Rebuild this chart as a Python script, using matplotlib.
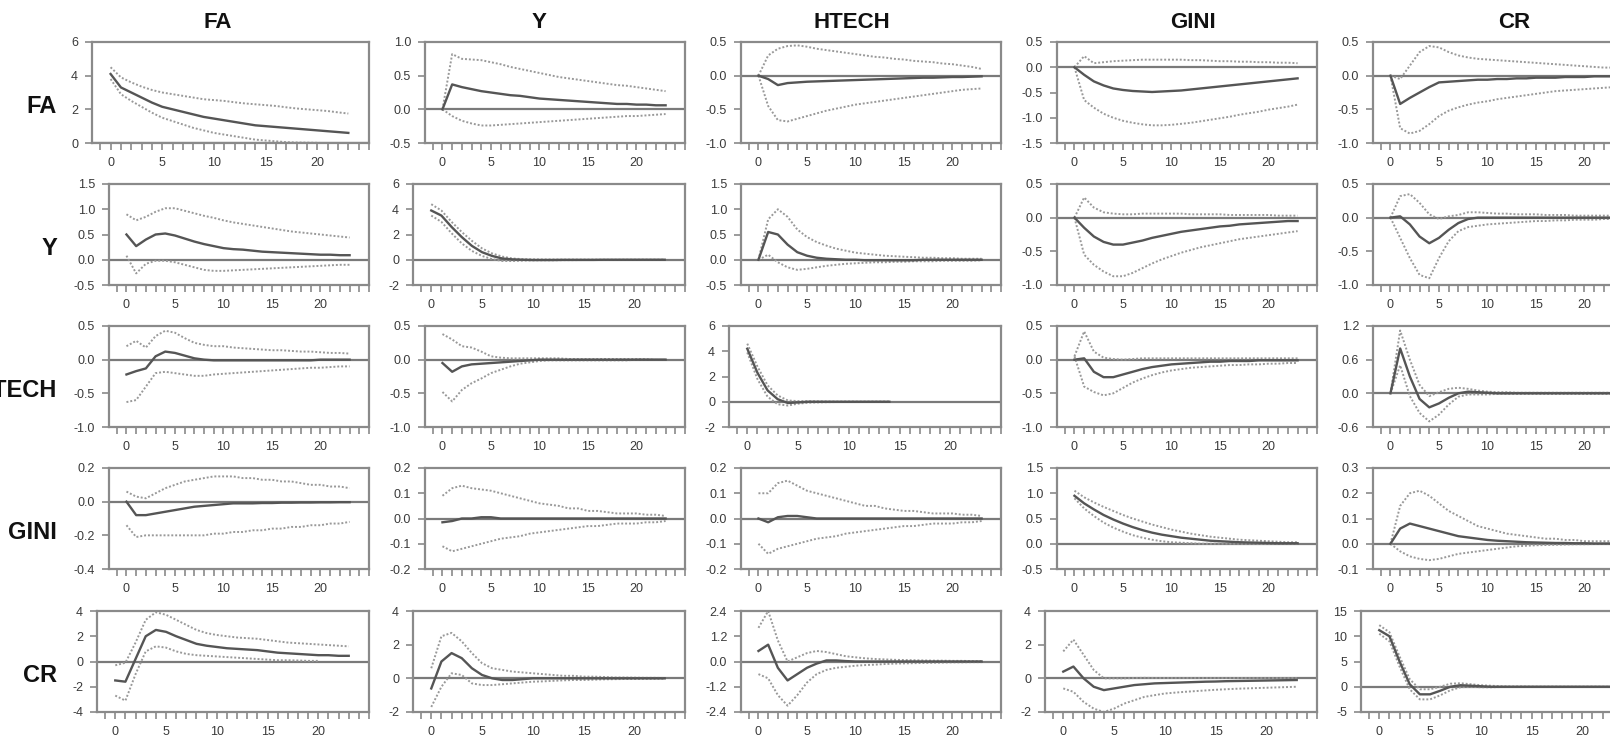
import numpy as np
import matplotlib
matplotlib.use("agg")
import matplotlib.pyplot as plt
from matplotlib.ticker import MultipleLocator

plt.rcParams['font.family'] = ['Liberation Sans', 'DejaVu Sans']

names = ['FA', 'Y', 'HTECH', 'GINI', 'CR']
horizon = np.arange(24)

# --- responses of FA (row 1) ---
FA_FA = [4.1, 3.3, 3.0, 2.7, 2.4, 2.15, 2.0, 1.85, 1.7, 1.55, 1.45, 1.35, 1.25, 1.15, 1.05, 1.0, 0.95, 0.9, 0.85, 0.8, 0.75, 0.7, 0.65, 0.6]
FA_FA_UP = [4.5, 3.9, 3.6, 3.35, 3.15, 3.0, 2.9, 2.8, 2.7, 2.6, 2.55, 2.5, 2.42, 2.35, 2.3, 2.25, 2.2, 2.12, 2.05, 2.0, 1.95, 1.9, 1.82, 1.75]
FA_FA_LO = [3.8, 2.9, 2.5, 2.15, 1.8, 1.5, 1.3, 1.1, 0.9, 0.75, 0.6, 0.5, 0.4, 0.3, 0.2, 0.15, 0.1, 0.05, 0.03, 0.02, 0.01, -0.02, -0.05, -0.08]
FA_Y = [0.0, 0.37, 0.33, 0.3, 0.27, 0.25, 0.23, 0.21, 0.2, 0.18, 0.16, 0.15, 0.14, 0.13, 0.12, 0.11, 0.1, 0.09, 0.08, 0.08, 0.07, 0.07, 0.06, 0.06]
FA_Y_UP = [0.0, 0.82, 0.75, 0.74, 0.73, 0.7, 0.67, 0.63, 0.6, 0.57, 0.54, 0.51, 0.48, 0.46, 0.44, 0.42, 0.4, 0.38, 0.36, 0.35, 0.33, 0.31, 0.29, 0.27]
FA_Y_LO = [0.0, -0.1, -0.17, -0.21, -0.24, -0.24, -0.23, -0.22, -0.21, -0.2, -0.19, -0.18, -0.17, -0.16, -0.15, -0.14, -0.13, -0.12, -0.11, -0.1, -0.1, -0.09, -0.08, -0.07]
FA_HTECH = [0.0, -0.05, -0.14, -0.11, -0.1, -0.09, -0.085, -0.08, -0.075, -0.07, -0.065, -0.06, -0.055, -0.05, -0.045, -0.04, -0.035, -0.03, -0.03, -0.025, -0.02, -0.02, -0.015, -0.01]
FA_HTECH_UP = [0.0, 0.3, 0.4, 0.44, 0.45, 0.43, 0.4, 0.38, 0.36, 0.34, 0.32, 0.3, 0.28, 0.27, 0.25, 0.24, 0.22, 0.21, 0.2, 0.18, 0.17, 0.15, 0.13, 0.1]
FA_HTECH_LO = [0.0, -0.45, -0.66, -0.68, -0.64, -0.6, -0.56, -0.52, -0.49, -0.46, -0.43, -0.41, -0.39, -0.37, -0.35, -0.33, -0.31, -0.29, -0.27, -0.25, -0.23, -0.21, -0.2, -0.19]
FA_GINI = [0.0, -0.15, -0.28, -0.36, -0.42, -0.45, -0.47, -0.48, -0.49, -0.48, -0.47, -0.46, -0.44, -0.42, -0.4, -0.38, -0.36, -0.34, -0.32, -0.3, -0.28, -0.26, -0.24, -0.22]
FA_GINI_UP = [0.0, 0.22, 0.08, 0.1, 0.12, 0.13, 0.14, 0.15, 0.15, 0.15, 0.15, 0.15, 0.14, 0.14, 0.13, 0.12, 0.12, 0.11, 0.11, 0.1, 0.1, 0.09, 0.09, 0.08]
FA_GINI_LO = [0.0, -0.65, -0.8, -0.92, -1.0, -1.06, -1.1, -1.13, -1.15, -1.15, -1.14, -1.12, -1.1, -1.07, -1.04, -1.01, -0.98, -0.94, -0.91, -0.88, -0.84, -0.81, -0.78, -0.74]
FA_CR = [0.0, -0.42, -0.33, -0.25, -0.17, -0.1, -0.09, -0.08, -0.07, -0.06, -0.06, -0.05, -0.05, -0.04, -0.04, -0.03, -0.03, -0.03, -0.02, -0.02, -0.02, -0.01, -0.01, -0.01]
FA_CR_UP = [0.0, -0.05, 0.15, 0.35, 0.44, 0.42, 0.35, 0.3, 0.27, 0.25, 0.24, 0.23, 0.22, 0.21, 0.2, 0.19, 0.18, 0.17, 0.16, 0.15, 0.14, 0.13, 0.12, 0.12]
FA_CR_LO = [0.0, -0.78, -0.86, -0.82, -0.72, -0.6, -0.52, -0.47, -0.43, -0.4, -0.38, -0.35, -0.33, -0.31, -0.29, -0.27, -0.25, -0.23, -0.22, -0.21, -0.2, -0.19, -0.18, -0.17]

# --- responses of Y (row 2) ---
Y_FA = [0.5, 0.27, 0.4, 0.5, 0.52, 0.48, 0.42, 0.36, 0.31, 0.27, 0.23, 0.21, 0.2, 0.18, 0.16, 0.15, 0.14, 0.13, 0.12, 0.11, 0.1, 0.1, 0.09, 0.09]
Y_FA_UP = [0.9, 0.78, 0.85, 0.95, 1.02, 1.02, 0.97, 0.92, 0.87, 0.83, 0.78, 0.74, 0.71, 0.68, 0.65, 0.62, 0.59, 0.56, 0.54, 0.52, 0.5, 0.48, 0.46, 0.44]
Y_FA_LO = [0.08, -0.27, -0.08, -0.02, -0.02, -0.05, -0.1, -0.15, -0.2, -0.22, -0.22, -0.21, -0.2, -0.19, -0.18, -0.17, -0.16, -0.15, -0.14, -0.13, -0.12, -0.11, -0.1, -0.1]
Y_Y = [3.9, 3.5, 2.6, 1.8, 1.1, 0.6, 0.3, 0.1, 0.03, 0.0, -0.02, -0.02, -0.02, -0.01, -0.01, -0.01, -0.01, 0.0, 0.0, 0.0, 0.0, 0.0, 0.0, 0.0]
Y_Y_UP = [4.4, 3.9, 3.0, 2.2, 1.5, 0.9, 0.5, 0.25, 0.1, 0.05, 0.03, 0.02, 0.02, 0.01, 0.01, 0.01, 0.01, 0.0, 0.0, 0.0, 0.0, 0.0, 0.0, 0.0]
Y_Y_LO = [3.5, 3.0, 2.1, 1.3, 0.7, 0.3, 0.05, -0.1, -0.1, -0.07, -0.05, -0.04, -0.04, -0.03, -0.03, -0.02, -0.02, -0.02, -0.02, -0.01, -0.01, -0.01, -0.01, -0.01]
Y_HTECH = [0.0, 0.55, 0.5, 0.3, 0.15, 0.08, 0.04, 0.02, 0.01, 0.0, 0.0, -0.01, -0.01, -0.01, -0.01, -0.01, -0.01, 0.0, 0.0, 0.0, 0.0, 0.0, 0.0, 0.0]
Y_HTECH_UP = [0.0, 0.8, 1.0, 0.85, 0.6, 0.45, 0.35, 0.28, 0.22, 0.18, 0.14, 0.12, 0.1, 0.08, 0.07, 0.06, 0.05, 0.04, 0.04, 0.03, 0.03, 0.02, 0.02, 0.02]
Y_HTECH_LO = [0.0, 0.1, -0.05, -0.15, -0.2, -0.18, -0.15, -0.12, -0.1, -0.08, -0.07, -0.06, -0.05, -0.05, -0.04, -0.04, -0.03, -0.03, -0.03, -0.02, -0.02, -0.02, -0.02, -0.01]
Y_GINI = [0.0, -0.15, -0.28, -0.36, -0.4, -0.4, -0.37, -0.34, -0.3, -0.27, -0.24, -0.21, -0.19, -0.17, -0.15, -0.13, -0.12, -0.1, -0.09, -0.08, -0.07, -0.06, -0.05, -0.05]
Y_GINI_UP = [0.0, 0.3, 0.15, 0.08, 0.06, 0.05, 0.05, 0.06, 0.06, 0.06, 0.06, 0.06, 0.05, 0.05, 0.05, 0.05, 0.04, 0.04, 0.04, 0.04, 0.04, 0.03, 0.03, 0.03]
Y_GINI_LO = [0.0, -0.55, -0.7, -0.8, -0.87, -0.87, -0.82, -0.75, -0.68, -0.62, -0.57, -0.52, -0.48, -0.44, -0.41, -0.38, -0.35, -0.32, -0.3, -0.28, -0.26, -0.24, -0.22, -0.2]
Y_CR = [0.0, 0.02, -0.1, -0.28, -0.38, -0.3, -0.18, -0.08, -0.02, 0.0, 0.0, 0.0, 0.0, 0.0, 0.0, 0.0, 0.0, 0.0, 0.0, 0.0, 0.0, 0.0, 0.0, 0.0]
Y_CR_UP = [0.0, 0.32, 0.35, 0.22, 0.05, -0.02, 0.02, 0.04, 0.08, 0.08, 0.07, 0.06, 0.06, 0.05, 0.05, 0.05, 0.04, 0.04, 0.04, 0.03, 0.03, 0.03, 0.03, 0.03]
Y_CR_LO = [0.0, -0.3, -0.6, -0.85, -0.9, -0.6, -0.35, -0.2, -0.14, -0.12, -0.1, -0.09, -0.08, -0.07, -0.06, -0.05, -0.05, -0.04, -0.04, -0.03, -0.03, -0.03, -0.02, -0.02]

# --- responses of HTECH (row 3) ---
HT_FA = [-0.22, -0.17, -0.13, 0.05, 0.12, 0.1, 0.06, 0.02, 0.0, -0.01, -0.01, -0.01, -0.01, -0.01, -0.01, -0.01, -0.01, -0.01, -0.01, -0.01, 0.0, 0.0, 0.0, 0.0]
HT_FA_UP = [0.2, 0.28, 0.18, 0.35, 0.43, 0.4, 0.32, 0.25, 0.22, 0.2, 0.2, 0.18, 0.17, 0.16, 0.15, 0.14, 0.14, 0.13, 0.12, 0.12, 0.11, 0.1, 0.1, 0.09]
HT_FA_LO = [-0.63, -0.6, -0.4, -0.2, -0.18, -0.2, -0.22, -0.24, -0.24, -0.22, -0.21, -0.2, -0.19, -0.18, -0.17, -0.16, -0.15, -0.14, -0.13, -0.12, -0.12, -0.11, -0.1, -0.1]
HT_Y = [-0.05, -0.18, -0.1, -0.07, -0.06, -0.05, -0.04, -0.03, -0.02, -0.01, 0.0, 0.0, 0.0, 0.0, 0.0, 0.0, 0.0, 0.0, 0.0, 0.0, 0.0, 0.0, 0.0, 0.0]
HT_Y_UP = [0.38, 0.3, 0.2, 0.18, 0.12, 0.05, 0.03, 0.02, 0.02, 0.02, 0.02, 0.02, 0.02, 0.01, 0.01, 0.01, 0.01, 0.01, 0.01, 0.01, 0.01, 0.01, 0.0, 0.0]
HT_Y_LO = [-0.48, -0.62, -0.45, -0.35, -0.28, -0.2, -0.15, -0.1, -0.06, -0.04, -0.02, -0.01, -0.01, -0.01, -0.01, -0.01, -0.01, -0.01, -0.01, -0.01, 0.0, 0.0, 0.0, 0.0]
HT_HTECH = [4.2, 2.3, 0.9, 0.2, -0.1, -0.05, 0.0, 0.0, 0.0, 0.0, 0.0, 0.0, 0.0, 0.0, 0.0]
HT_HTECH_UP = [4.6, 2.8, 1.3, 0.5, 0.1, 0.05, 0.05, 0.03, 0.02, 0.01, 0.01, 0.0, 0.0, 0.0, 0.0]
HT_HTECH_LO = [3.9, 1.8, 0.4, -0.2, -0.3, -0.15, -0.08, -0.05, -0.03, -0.02, -0.01, -0.01, 0.0, 0.0, 0.0]
HT_GINI = [0.0, 0.02, -0.18, -0.26, -0.26, -0.22, -0.18, -0.14, -0.11, -0.09, -0.07, -0.06, -0.05, -0.04, -0.03, -0.03, -0.02, -0.02, -0.02, -0.01, -0.01, -0.01, -0.01, -0.01]
HT_GINI_UP = [0.05, 0.42, 0.12, 0.03, 0.01, 0.0, 0.01, 0.02, 0.02, 0.02, 0.02, 0.02, 0.02, 0.02, 0.02, 0.02, 0.02, 0.02, 0.02, 0.02, 0.02, 0.02, 0.02, 0.02]
HT_GINI_LO = [0.05, -0.4, -0.48, -0.53, -0.5, -0.42, -0.34, -0.28, -0.23, -0.19, -0.16, -0.14, -0.12, -0.11, -0.1, -0.09, -0.08, -0.08, -0.07, -0.07, -0.06, -0.06, -0.05, -0.05]
HT_CR = [0.0, 0.8, 0.3, -0.1, -0.25, -0.18, -0.08, 0.0, 0.03, 0.02, 0.01, 0.0, 0.0, 0.0, 0.0, 0.0, 0.0, 0.0, 0.0, 0.0, 0.0, 0.0, 0.0, 0.0]
HT_CR_UP = [0.0, 1.12, 0.6, 0.15, -0.05, 0.02, 0.08, 0.1, 0.08, 0.05, 0.03, 0.02, 0.02, 0.01, 0.01, 0.01, 0.01, 0.01, 0.01, 0.01, 0.01, 0.01, 0.01, 0.01]
HT_CR_LO = [0.0, 0.5, -0.05, -0.35, -0.5, -0.38, -0.2, -0.06, -0.02, -0.02, -0.02, -0.01, -0.01, -0.01, -0.01, -0.01, -0.01, -0.01, -0.01, -0.01, -0.01, -0.01, -0.01, -0.01]

# --- responses of GINI (row 4) ---
GI_FA = [0.0, -0.08, -0.08, -0.07, -0.06, -0.05, -0.04, -0.03, -0.025, -0.02, -0.015, -0.01, -0.01, -0.01, -0.008, -0.008, -0.006, -0.006, -0.005, -0.005, -0.004, -0.004, -0.003, -0.003]
GI_FA_UP = [0.06, 0.03, 0.02, 0.05, 0.08, 0.1, 0.12, 0.13, 0.14, 0.15, 0.15, 0.15, 0.14, 0.14, 0.13, 0.13, 0.12, 0.12, 0.11, 0.1, 0.1, 0.09, 0.09, 0.08]
GI_FA_LO = [-0.14, -0.21, -0.2, -0.2, -0.2, -0.2, -0.2, -0.2, -0.2, -0.19, -0.19, -0.18, -0.18, -0.17, -0.17, -0.16, -0.16, -0.15, -0.15, -0.14, -0.14, -0.13, -0.13, -0.12]
GI_Y = [-0.015, -0.01, 0.0, 0.0, 0.005, 0.005, 0.0, 0.0, 0.0, 0.0, 0.0, 0.0, 0.0, 0.0, 0.0, 0.0, 0.0, 0.0, 0.0, 0.0, 0.0, 0.0, 0.0, 0.0]
GI_Y_UP = [0.09, 0.12, 0.13, 0.12, 0.115, 0.11, 0.1, 0.09, 0.08, 0.07, 0.06, 0.055, 0.05, 0.04, 0.04, 0.03, 0.03, 0.025, 0.02, 0.02, 0.02, 0.015, 0.015, 0.01]
GI_Y_LO = [-0.11, -0.13, -0.12, -0.11, -0.1, -0.09, -0.08, -0.075, -0.07, -0.06, -0.055, -0.05, -0.045, -0.04, -0.035, -0.03, -0.03, -0.025, -0.02, -0.02, -0.02, -0.015, -0.015, -0.01]
GI_HTECH = [0.0, -0.015, 0.005, 0.01, 0.01, 0.005, 0.0, 0.0, 0.0, 0.0, 0.0, 0.0, 0.0, 0.0, 0.0, 0.0, 0.0, 0.0, 0.0, 0.0, 0.0, 0.0, 0.0, 0.0]
GI_HTECH_UP = [0.1, 0.1, 0.14, 0.15, 0.13, 0.11, 0.1, 0.09, 0.08, 0.07, 0.06, 0.05, 0.05, 0.04, 0.035, 0.03, 0.03, 0.025, 0.02, 0.02, 0.02, 0.015, 0.015, 0.01]
GI_HTECH_LO = [-0.1, -0.14, -0.12, -0.11, -0.1, -0.09, -0.08, -0.075, -0.07, -0.06, -0.055, -0.05, -0.045, -0.04, -0.035, -0.03, -0.03, -0.025, -0.02, -0.02, -0.02, -0.015, -0.015, -0.01]
GI_GINI = [0.95, 0.8, 0.68, 0.57, 0.48, 0.4, 0.33, 0.27, 0.22, 0.18, 0.15, 0.12, 0.1, 0.08, 0.06, 0.05, 0.04, 0.03, 0.025, 0.02, 0.015, 0.01, 0.01, 0.01]
GI_GINI_UP = [1.05, 0.92, 0.82, 0.73, 0.65, 0.57, 0.5, 0.44, 0.38, 0.33, 0.28, 0.24, 0.2, 0.17, 0.14, 0.12, 0.1, 0.08, 0.07, 0.06, 0.05, 0.04, 0.03, 0.03]
GI_GINI_LO = [0.9, 0.7, 0.55, 0.42, 0.32, 0.24, 0.17, 0.12, 0.08, 0.05, 0.03, 0.02, 0.01, 0.0, 0.0, 0.0, 0.0, 0.0, 0.0, 0.0, 0.0, 0.0, 0.0, 0.0]
GI_CR = [0.0, 0.06, 0.08, 0.07, 0.06, 0.05, 0.04, 0.03, 0.025, 0.02, 0.015, 0.012, 0.01, 0.008, 0.006, 0.005, 0.004, 0.003, 0.003, 0.002, 0.002, 0.001, 0.001, 0.001]
GI_CR_UP = [0.0, 0.15, 0.2, 0.21, 0.19, 0.16, 0.13, 0.11, 0.09, 0.07, 0.06, 0.05, 0.04, 0.035, 0.03, 0.025, 0.02, 0.02, 0.015, 0.015, 0.01, 0.01, 0.01, 0.01]
GI_CR_LO = [0.0, -0.03, -0.05, -0.06, -0.065, -0.06, -0.05, -0.04, -0.035, -0.03, -0.025, -0.02, -0.015, -0.01, -0.008, -0.006, -0.005, -0.004, -0.003, -0.002, -0.002, -0.001, -0.001, -0.001]

# --- responses of CR (row 5) ---
CR_FA = [-1.5, -1.6, 0.2, 2.0, 2.5, 2.35, 2.0, 1.7, 1.4, 1.25, 1.15, 1.05, 1.0, 0.95, 0.9, 0.8, 0.7, 0.65, 0.6, 0.55, 0.5, 0.5, 0.45, 0.45]
CR_FA_UP = [-0.3, -0.1, 1.5, 3.3, 3.9, 3.7, 3.3, 2.9, 2.5, 2.25, 2.1, 2.0, 1.9, 1.85, 1.8, 1.7, 1.6, 1.5, 1.45, 1.4, 1.35, 1.3, 1.25, 1.2]
CR_FA_LO = [-2.7, -3.1, -1.0, 0.8, 1.2, 1.1, 0.8, 0.6, 0.5, 0.45, 0.4, 0.35, 0.3, 0.25, 0.2, 0.15, 0.1, 0.1, 0.08, 0.05, 0.05]
CR_Y = [-0.6, 1.0, 1.5, 1.2, 0.6, 0.2, 0.0, -0.1, -0.1, -0.05, 0.0, 0.0, 0.0, 0.0, 0.0, 0.0, 0.0, 0.0, 0.0, 0.0, 0.0, 0.0, 0.0, 0.0]
CR_Y_UP = [0.6, 2.5, 2.7, 2.2, 1.5, 0.9, 0.6, 0.5, 0.4, 0.35, 0.3, 0.25, 0.2, 0.15, 0.15, 0.1, 0.1, 0.08, 0.05, 0.05, 0.04, 0.03, 0.03, 0.02]
CR_Y_LO = [-1.7, -0.5, 0.3, 0.2, -0.3, -0.4, -0.4, -0.35, -0.3, -0.25, -0.2, -0.18, -0.15, -0.12, -0.1, -0.1, -0.08, -0.06, -0.05, -0.04, -0.04, -0.03, -0.03, -0.02]
CR_HTECH = [0.5, 0.8, -0.3, -0.9, -0.6, -0.3, -0.1, 0.05, 0.05, 0.02, 0.0, 0.0, 0.0, 0.0, 0.0, 0.0, 0.0, 0.0, 0.0, 0.0, 0.0, 0.0, 0.0, 0.0]
CR_HTECH_UP = [1.6, 2.4, 1.0, 0.0, 0.2, 0.4, 0.5, 0.45, 0.35, 0.25, 0.2, 0.15, 0.12, 0.1, 0.08, 0.07, 0.06, 0.05, 0.04, 0.04, 0.03, 0.03, 0.02, 0.02]
CR_HTECH_LO = [-0.6, -0.8, -1.6, -2.1, -1.6, -1.0, -0.6, -0.4, -0.3, -0.25, -0.2, -0.17, -0.15, -0.12, -0.1, -0.09, -0.08, -0.07, -0.06, -0.05, -0.04, -0.04, -0.03, -0.03]
CR_GINI = [0.4, 0.7, 0.0, -0.5, -0.7, -0.6, -0.5, -0.4, -0.35, -0.3, -0.28, -0.26, -0.24, -0.22, -0.2, -0.19, -0.17, -0.16, -0.15, -0.14, -0.13, -0.12, -0.11, -0.1]
CR_GINI_UP = [1.6, 2.3, 1.4, 0.5, 0.0, 0.0, 0.0, 0.02, 0.03, 0.02, 0.02, 0.02, 0.02, 0.02, 0.02, 0.02, 0.02, 0.02, 0.02, 0.02, 0.02, 0.02, 0.02, 0.02]
CR_GINI_LO = [-0.6, -0.8, -1.4, -1.8, -2.0, -1.8, -1.5, -1.3, -1.1, -1.0, -0.9, -0.85, -0.8, -0.76, -0.72, -0.68, -0.65, -0.62, -0.6, -0.58, -0.56, -0.54, -0.52, -0.5]
CR_CR = [11.2, 10.0, 5.0, 0.5, -1.5, -1.5, -0.8, 0.0, 0.3, 0.2, 0.1, 0.0, 0.0, 0.0, 0.0, 0.0, 0.0, 0.0, 0.0, 0.0, 0.0, 0.0, 0.0, 0.0]
CR_CR_UP = [12.2, 10.8, 6.0, 1.5, -0.5, -0.5, 0.0, 0.6, 0.7, 0.5, 0.3, 0.2, 0.1, 0.05, 0.05, 0.03, 0.02, 0.02, 0.01, 0.01, 0.01, 0.0, 0.0, 0.0]
CR_CR_LO = [10.5, 9.0, 4.0, -0.5, -2.5, -2.5, -1.7, -0.7, -0.1, 0.0, -0.1, -0.1, -0.05, -0.05, -0.03, -0.03, -0.02, -0.02, -0.01, -0.01, -0.01, 0.0, 0.0, 0.0]

responses = [
    [(FA_FA, FA_FA_UP, FA_FA_LO), (FA_Y, FA_Y_UP, FA_Y_LO), (FA_HTECH, FA_HTECH_UP, FA_HTECH_LO),
     (FA_GINI, FA_GINI_UP, FA_GINI_LO), (FA_CR, FA_CR_UP, FA_CR_LO)],
    [(Y_FA, Y_FA_UP, Y_FA_LO), (Y_Y, Y_Y_UP, Y_Y_LO), (Y_HTECH, Y_HTECH_UP, Y_HTECH_LO),
     (Y_GINI, Y_GINI_UP, Y_GINI_LO), (Y_CR, Y_CR_UP, Y_CR_LO)],
    [(HT_FA, HT_FA_UP, HT_FA_LO), (HT_Y, HT_Y_UP, HT_Y_LO), (HT_HTECH, HT_HTECH_UP, HT_HTECH_LO),
     (HT_GINI, HT_GINI_UP, HT_GINI_LO), (HT_CR, HT_CR_UP, HT_CR_LO)],
    [(GI_FA, GI_FA_UP, GI_FA_LO), (GI_Y, GI_Y_UP, GI_Y_LO), (GI_HTECH, GI_HTECH_UP, GI_HTECH_LO),
     (GI_GINI, GI_GINI_UP, GI_GINI_LO), (GI_CR, GI_CR_UP, GI_CR_LO)],
    [(CR_FA, CR_FA_UP, CR_FA_LO), (CR_Y, CR_Y_UP, CR_Y_LO), (CR_HTECH, CR_HTECH_UP, CR_HTECH_LO),
     (CR_GINI, CR_GINI_UP, CR_GINI_LO), (CR_CR, CR_CR_UP, CR_CR_LO)],
]

# y axis: (min, max, step) for every panel
y_scales = [
    [(0, 6, 2), (-0.5, 1.0, 0.5), (-1.0, 0.5, 0.5), (-1.5, 0.5, 0.5), (-1.0, 0.5, 0.5)],
    [(-0.5, 1.5, 0.5), (-2, 6, 2), (-0.5, 1.5, 0.5), (-1.0, 0.5, 0.5), (-1.0, 0.5, 0.5)],
    [(-1.0, 0.5, 0.5), (-1.0, 0.5, 0.5), (-2, 6, 2), (-1.0, 0.5, 0.5), (-0.6, 1.2, 0.6)],
    [(-0.4, 0.2, 0.2), (-0.2, 0.2, 0.1), (-0.2, 0.2, 0.1), (-0.5, 1.5, 0.5), (-0.1, 0.3, 0.1)],
    [(-4, 4, 2), (-2, 4, 2), (-2.4, 2.4, 1.2), (-2, 4, 2), (-5, 15, 5)],
]

W, H = 1610, 737
fig = plt.figure(figsize=(W / 100, H / 100), dpi=100)

right_px = [369, 685, 1001, 1317, 1633]
top_px = [42, 184, 326, 468, 611]
height_px = 101
title_x = [218, 539, 852, 1193, 1514]

spine_col = '#8a8a8a'
text_col = '#3a3a3a'

def fmt(v, step):
    if float(step).is_integer():
        return '%d' % round(v)
    return '%.1f' % v

for r in range(5):
    for c in range(5):
        lo, hi, step = y_scales[r][c]
        ticks = np.arange(lo, hi + step / 2, step)
        labels = [fmt(t, step) for t in ticks]
        maxlen = max(len(s) for s in labels)
        width_px = {1: 277, 2: 272, 3: 266}.get(maxlen, 260)
        left = (right_px[c] - width_px) / W
        bottom = (H - top_px[r] - height_px) / H
        ax = fig.add_axes([left, bottom, width_px / W, height_px / H])

        mean, up, low = responses[r][c]
        ax.axhline(0, color='#7a7a7a', lw=1.6, zorder=1)
        ax.plot(horizon[:len(up)], up, color='#999999', lw=1.4, ls=(0, (1, 1)), zorder=2)
        ax.plot(horizon[:len(low)], low, color='#999999', lw=1.4, ls=(0, (1, 1)), zorder=2)
        ax.plot(horizon[:len(mean)], mean, color='#555555', lw=1.7, zorder=3)

        ax.set_xlim(-1.8, 25)
        ax.set_ylim(lo, hi)
        ax.set_yticks(ticks)
        ax.set_yticklabels(labels)
        ax.xaxis.set_major_locator(MultipleLocator(5))
        ax.xaxis.set_minor_locator(MultipleLocator(1))
        ax.set_xticks([0, 5, 10, 15, 20])
        ax.tick_params(axis='both', which='both', direction='out', length=5, width=1.2,
                       color=spine_col, labelsize=9, labelcolor=text_col, pad=5)
        for sp in ax.spines.values():
            sp.set_color(spine_col)
            sp.set_linewidth(1.6)

        if r == 0:
            fig.text(title_x[c] / W, 1 - 22 / H, names[c], ha='center', va='center',
                     fontsize=16, fontweight='bold', color='#111111')
        if c == 0:
            yc = top_px[r] + height_px / 2 + 14
            fig.text(57 / W, 1 - yc / H, names[r], ha='right', va='center',
                     fontsize=17, fontweight='bold', color='#111111')

fig.savefig('out.png', dpi=100)
